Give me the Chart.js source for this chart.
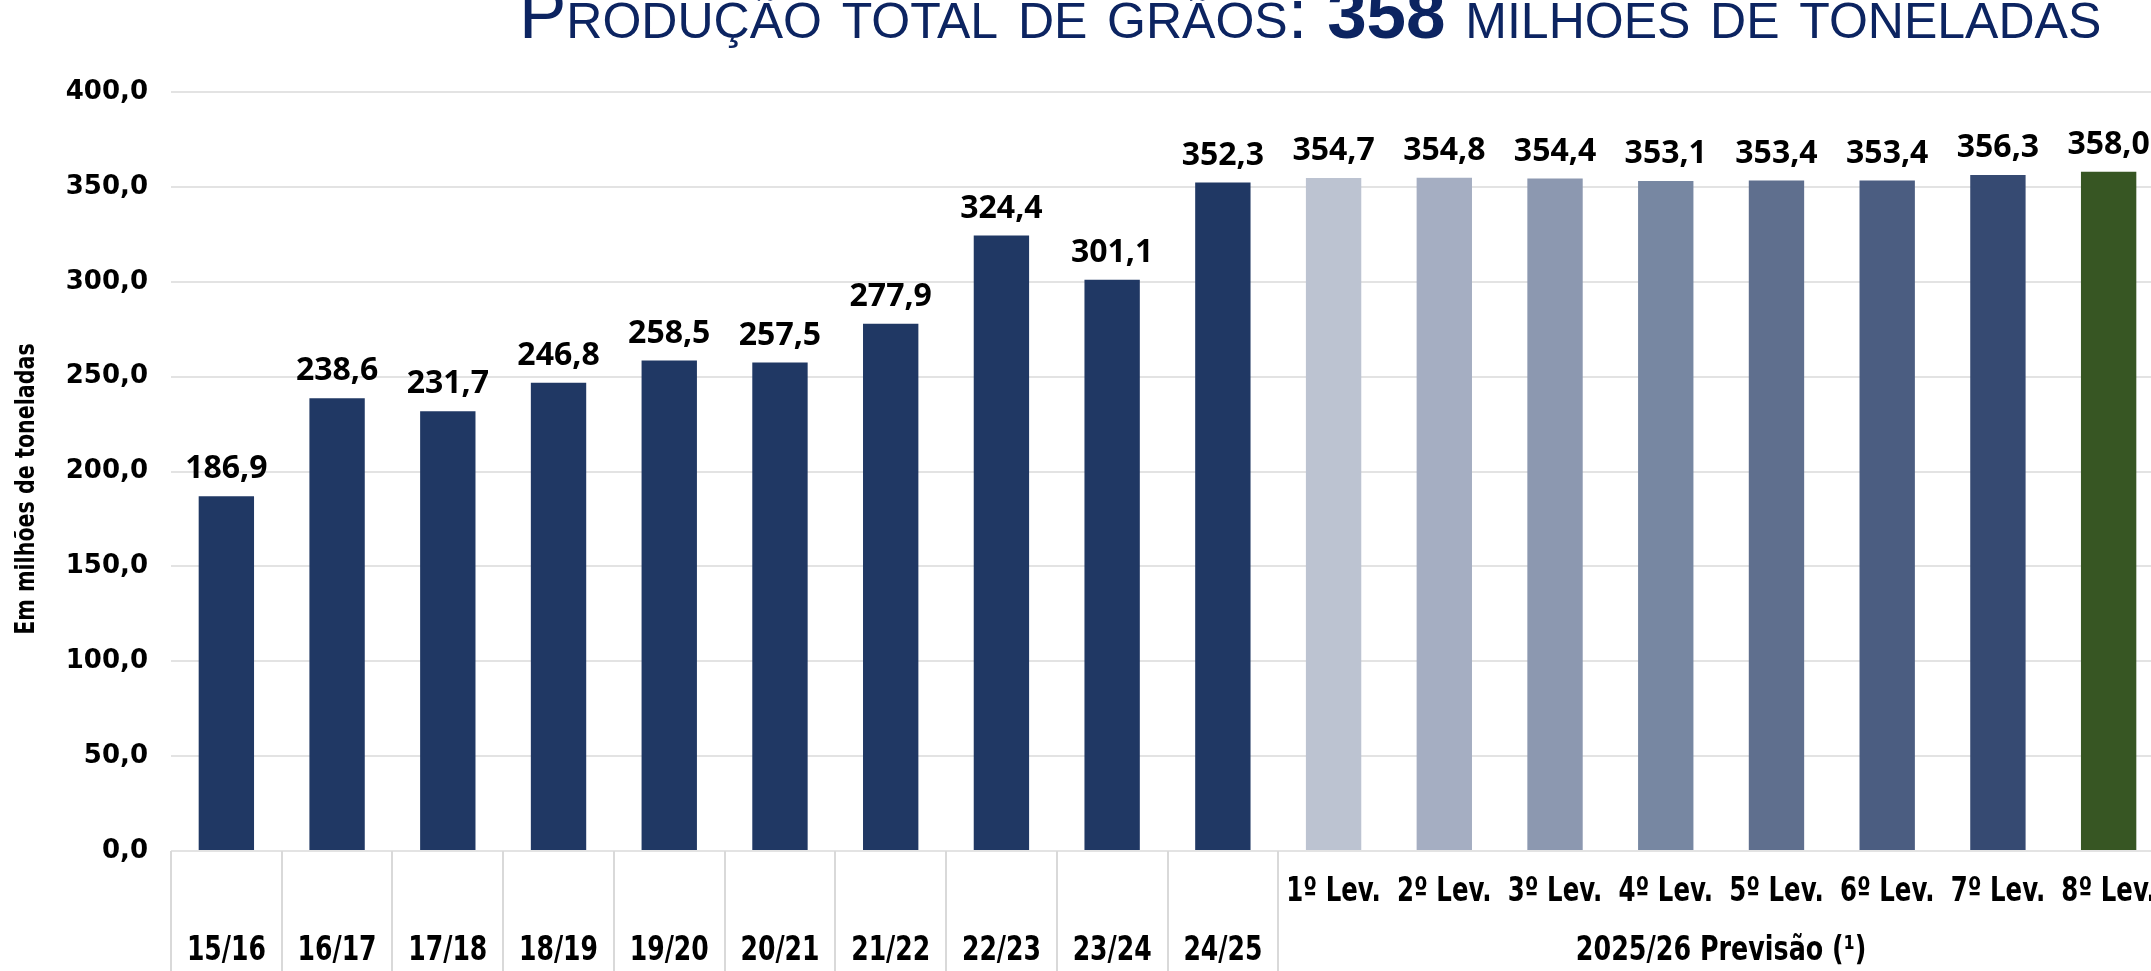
<!DOCTYPE html>
<html>
<head>
<meta charset="utf-8">
<script src="https://cdn.jsdelivr.net/npm/chart.js@4/dist/chart.umd.min.js"></script>
<style>
  html, body { margin: 0; padding: 0; background: #fff; overflow: hidden; }
  #wrap { position: relative; width: 2151px; height: 971px; overflow: hidden; }
  #titulo {
    position: absolute; left: 519px; top: -22px; margin: 0;
    font-family: "Liberation Sans", Arial, sans-serif; font-weight: normal;
    font-size: 71px; line-height: 71px; font-variant: small-caps;
    color: #0c2461; white-space: nowrap;
  }
  #titulo b { font-weight: bold; }
  canvas { position: absolute; left: 0; top: 0; }
</style>
</head>
<body>
<div id="wrap">
  <h1 id="titulo">Produção total de grãos: <b>358</b> milhões de toneladas</h1>
  <canvas id="graos" width="2164" height="971"></canvas>
</div>
<script>
// Safras anteriores
const safras = ['15/16', '16/17', '17/18', '18/19', '19/20', '20/21', '21/22', '22/23', '23/24', '24/25'];
const producaoSafras = [186.9, 238.6, 231.7, 246.8, 258.5, 257.5, 277.9, 324.4, 301.1, 352.3];

// Levantamentos da safra 2025/26
const levantamentos = ['1º Lev.', '2º Lev.', '3º Lev.', '4º Lev.', '5º Lev.', '6º Lev.', '7º Lev.', '8º Lev.'];
const producaoLev = [354.7, 354.8, 354.4, 353.1, 353.4, 353.4, 356.3, 358.0];
const grupoPrevisao = '2025/26 Previsão (¹)';
const tituloY = 'Em milhões de toneladas';

const yTicks = [0, 50, 100, 150, 200, 250, 300, 350, 400];

const corSafra = '#203864';
const coresLev = ['#bcc3d1', '#a5aec2', '#8c98b0', '#7787a2', '#5f6f8e', '#4b5d81', '#364a72', '#375623'];

const fonteEstreita = '"DejaVu Sans Condensed", "Liberation Sans", sans-serif';

const labels = safras.map(s => ['', s]).concat(levantamentos.map(l => [l, '']));
const valores = producaoSafras.concat(producaoLev);
const cores = producaoSafras.map(() => corSafra).concat(coresLev);

const fmt = v => v.toFixed(1).replace('.', ',');

// texto estreito (a fonte original e tipo Calibri)
function textoEstreito(ctx, txt, x, y, size, sx, rot) {
    ctx.save();
    ctx.translate(x, y);
    if (rot) ctx.rotate(rot);
    ctx.scale(sx, 1);
    ctx.font = 'bold ' + size + 'px ' + fonteEstreita;
    ctx.fillStyle = '#000';
    ctx.textAlign = 'center';
    ctx.textBaseline = 'middle';
    ctx.fillText(txt, 0, 0);
    ctx.restore();
}

// rotulos de valor, categorias, separadores e titulo do eixo y
const extras = {
    id: 'extras',
    afterDatasetsDraw(chart) {
        const ctx = chart.ctx;
        const meta = chart.getDatasetMeta(0);
        ctx.save();
        ctx.font = 'bold 32px "Open Sans", sans-serif';
        ctx.fillStyle = '#000';
        ctx.textAlign = 'center';
        ctx.textBaseline = 'middle';
        meta.data.forEach((bar, i) => {
            ctx.fillText(fmt(valores[i]), bar.x, bar.y - 27);
        });
        ctx.restore();
    },
    afterDraw(chart) {
        const ctx = chart.ctx;
        const x = chart.scales.x;
        const area = chart.chartArea;
        const w = x.getPixelForValue(1) - x.getPixelForValue(0);
        ctx.save();
        ctx.strokeStyle = '#d9d9d9';
        ctx.lineWidth = 2;
        for (let i = 0; i <= safras.length; i++) {
            const px = Math.round(x.getPixelForValue(i) - w / 2);
            ctx.beginPath();
            ctx.moveTo(px, area.bottom);
            ctx.lineTo(px, chart.height);
            ctx.stroke();
        }
        ctx.restore();

        labels.forEach((lab, i) => {
            const px = x.getPixelForValue(i);
            if (lab[0]) textoEstreito(ctx, lab[0], px, 892, 34, 0.8);
            if (lab[1]) textoEstreito(ctx, lab[1], px, 951, 34, 0.82);
        });
        const ini = x.getPixelForValue(safras.length) - w / 2;
        const fim = x.getPixelForValue(labels.length - 1) + w / 2;
        textoEstreito(ctx, grupoPrevisao, (ini + fim) / 2, 951, 34, 0.83);
        textoEstreito(ctx, tituloY, 27, 489, 27, 0.85, -Math.PI / 2);
    }
};

new Chart(document.getElementById('graos'), {
    type: 'bar',
    data: {
        labels: labels,
        datasets: [{
            data: valores,
            backgroundColor: cores,
            borderWidth: 0,
            categoryPercentage: 1,
            barPercentage: 0.5
        }]
    },
    options: {
        responsive: false,
        animation: false,
        layout: { padding: { top: 92, left: 0, right: 0, bottom: 0 } },
        plugins: { legend: { display: false }, tooltip: { enabled: false } },
        scales: {
            y: {
                min: 0,
                max: 400,
                afterBuildTicks(scale) { scale.ticks = yTicks.map(v => ({ value: v })); },
                afterFit(scale) { scale.width = 171; },
                border: { display: false },
                grid: { color: '#e3e3e3', lineWidth: 2, drawTicks: false },
                ticks: {
                    padding: 23,
                    color: '#000',
                    font: { family: '"DejaVu Sans", sans-serif', weight: 'bold', size: 26 },
                    callback: v => fmt(v)
                }
            },
            x: {
                afterFit(scale) { scale.height = 120; },
                border: { display: false },
                grid: { display: false, drawTicks: false },
                ticks: { display: false, autoSkip: false, maxRotation: 0 }
            }
        }
    },
    plugins: [extras]
});
</script>
</body>
</html>
